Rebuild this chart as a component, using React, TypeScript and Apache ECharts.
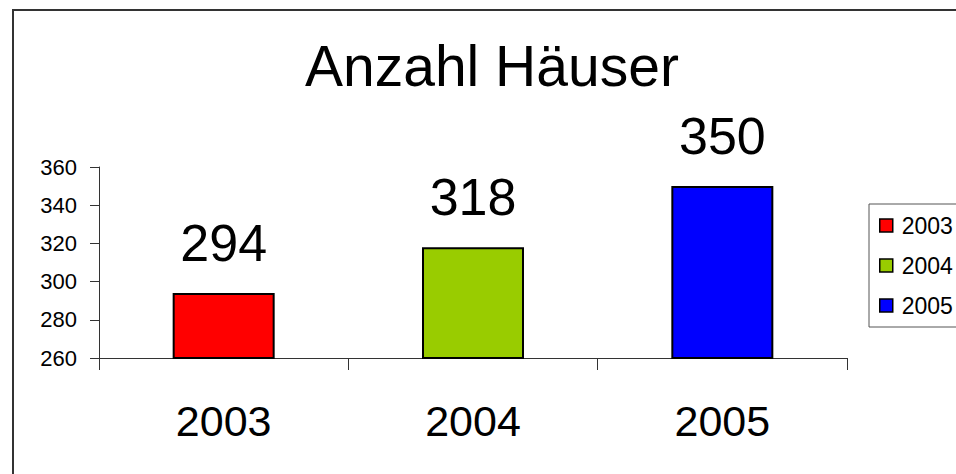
import React, { useEffect, useRef } from "react";
import * as echarts from "echarts";

const categories = ["2003", "2004", "2005"];
const seriesNames = ["2003", "2004", "2005"];
const values = [294, 318, 350];
const colors = ["#FF0000", "#99CC00", "#0000FF"];
const yTicks = { min: 260, max: 360, interval: 20 };
const titleText = "Anzahl Häuser";

const FONT = "'Liberation Sans', Arial, sans-serif";

export default function App() {
  const ref = useRef<HTMLDivElement>(null);
  useEffect(() => {
    if (!ref.current) return;
    const chart = echarts.init(ref.current, undefined, { renderer: "svg" });
    const series = seriesNames.map((name, i) => ({
      name,
      type: "bar",
      barWidth: 102,
      barGap: "-100%",
      data: categories.map((_, j) => (j === i ? values[i] : "-")),
      itemStyle: { color: colors[i], borderColor: "#000", borderWidth: 2 },
      label: {
        show: true,
        position: "top",
        distance: 24,
        color: "#000",
        fontSize: 52,
        fontFamily: FONT,
      },
    }));
    chart.setOption({
      animation: false,
      backgroundColor: "#fff",
      textStyle: { fontFamily: FONT },
      title: {
        text: titleText,
        left: 305,
        top: 37,
        padding: 0,
        textStyle: { fontSize: 57, fontWeight: "normal", color: "#000", fontFamily: FONT },
      },
      graphic: [
        {
          type: "rect",
          shape: { x: 13, y: 10, width: 1000, height: 500 },
          style: { fill: "none", stroke: "#333", lineWidth: 2 },
          silent: true,
        },
      ],
      legend: {
        orient: "vertical",
        left: 869,
        top: 204,
        padding: 10,
        itemGap: 17,
        itemWidth: 13,
        itemHeight: 13,
        icon: "rect",
        borderColor: "#555",
        borderWidth: 1,
        data: seriesNames,
        itemStyle: { borderColor: "#000", borderWidth: 1.5 },
        textStyle: { fontSize: 23, color: "#000", fontFamily: FONT, padding: [0, 0, 0, 4] },
      },
      grid: { left: 99, right: 109, top: 167, bottom: 116, containLabel: false },
      xAxis: {
        type: "category",
        data: categories,
        axisLine: { lineStyle: { color: "#333", width: 1 } },
        axisTick: { show: true, alignWithLabel: false, length: 12, lineStyle: { color: "#333" } },
        axisLabel: { fontSize: 43, color: "#000", margin: 41, fontFamily: FONT },
        splitLine: { show: false },
      },
      yAxis: {
        type: "value",
        min: yTicks.min,
        max: yTicks.max,
        interval: yTicks.interval,
        axisLine: { show: true, lineStyle: { color: "#333", width: 1 } },
        axisTick: { show: true, length: 9, lineStyle: { color: "#333" } },
        axisLabel: { fontSize: 22, color: "#000", margin: 22, fontFamily: FONT },
        splitLine: { show: false },
      },
      series,
    });
    return () => chart.dispose();
  }, []);
  return (
    <div
      ref={ref}
      style={{ position: "absolute", left: 0, top: 0, width: 956, height: 474 }}
    />
  );
}
